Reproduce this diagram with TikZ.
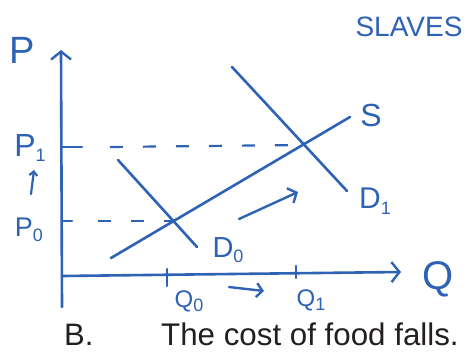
\documentclass[tikz,border=0pt]{standalone}
\usepackage{fontspec}
\setmainfont{Liberation Sans}
\usetikzlibrary{arrows.meta}
\usepackage{xcolor}
\definecolor{penblue}{HTML}{2E62B4}
\definecolor{printblack}{HTML}{231F20}
\newcommand{\lowidx}[1]{\raisebox{-0.35ex}{\fontsize{18}{18}\selectfont #1}}
\newcommand{\handsize}[1]{\fontsize{#1}{#1}\selectfont}
\tikzset{
  pen/.style={penblue,line width=2.6pt,line cap=round},
  guide/.style={penblue,line width=2.2pt,dash pattern=on 13pt off 20pt},
  barb/.style={-{Straight Barb[length=8pt,width=20pt,line width=2.4pt]}},
  hand/.style={penblue,inner sep=0pt},
}

\begin{document}
\begin{tikzpicture}[x=1pt,y=-1pt]
  \useasboundingbox (0,0) rectangle (466,354);
  % Axes
  \coordinate (ybot) at (62,307);
  \coordinate (ytop) at (61,50);
  \coordinate (xstart) at (62,276);
  \coordinate (xend) at (401,272);
  \draw[pen,barb] (ybot) -- (ytop);
  \draw[pen,barb] (xstart) -- (xend);
  \node[hand,font=\handsize{38}] (plabel) at (22,50) {P};
  \node[hand,font=\handsize{40}] (qlabel) at (438,279) {Q};
  % Price levels
  \coordinate (pone) at (62,147);
  \coordinate (pzero) at (62,221);
  \coordinate (eone) at (301,145);
  \coordinate (ezero) at (172,221);
  \draw[pen] (pone) -- ++(20,0) coordinate (ponetick);
  \draw[guide] (ponetick) ++(28,0) -- (eone);
  \draw[pen] (pzero) -- ++(10,0) coordinate (pzerotick);
  \draw[guide] (pzerotick) ++(26,0) -- (ezero);
  \node[hand,font=\handsize{32}] (ponelabel) at (30,148) {P\lowidx{1}};
  \node[hand,font=\handsize{27}] (pzerolabel) at (29,230) {P\lowidx{0}};
  \draw[penblue,line width=2.2pt,line cap=round,-{Straight Barb[length=4pt,width=8pt]}] (31,194) -- (34,170);
  % Supply and demand
  \coordinate (sstart) at (111,258);
  \coordinate (send) at (350,117);
  \coordinate (dzstart) at (118,160);
  \coordinate (dzend) at (197,247);
  \coordinate (dostart) at (232,67);
  \coordinate (doend) at (347,191);
  \draw[pen] (sstart) -- (send);
  \draw[pen] (dzstart) -- (dzend);
  \draw[pen] (dostart) -- (doend);
  \node[hand,font=\handsize{32}] (slabel) at (371,115) {S};
  \node[hand,font=\handsize{29}] (dzlabel) at (228,250) {D\lowidx{0}};
  \node[hand,font=\handsize{30}] (dolabel) at (375,201) {D\lowidx{1}};
  % Shift of demand
  \coordinate (shiftfrom) at (239,219);
  \coordinate (shiftto) at (298,192);
  \draw[penblue,line width=2.4pt,line cap=round,-{Straight Barb[length=7pt,width=16pt]}] (shiftfrom) -- (shiftto);
  % Quantities
  \coordinate (qzero) at (167,269);
  \coordinate (qone) at (296,266);
  \draw[pen] (qzero) -- ++(0,17);
  \draw[pen] (qone) -- ++(0,12);
  \node[hand,font=\handsize{24}] (qzerolabel) at (189,301) {Q\lowidx{0}};
  \node[hand,font=\handsize{24}] (qonelabel) at (311,300) {Q\lowidx{1}};
  \coordinate (qmovefrom) at (229,287);
  \coordinate (qmoveto) at (264,291);
  \draw[penblue,line width=2.4pt,line cap=round,-{Straight Barb[length=6pt,width=14pt]}] (qmovefrom) -- (qmoveto);
  % Titles
  \node[hand,font=\handsize{28}] (market) at (409,27) {SLAVES};
  \node[printblack,inner sep=0pt,anchor=base west,font=\handsize{31}] (tag) at (64,345) {B.};
  \node[printblack,inner sep=0pt,anchor=base west,font=\handsize{31.3}] (caption) at (161,345) {The cost of food falls.};
\end{tikzpicture}
\end{document}
